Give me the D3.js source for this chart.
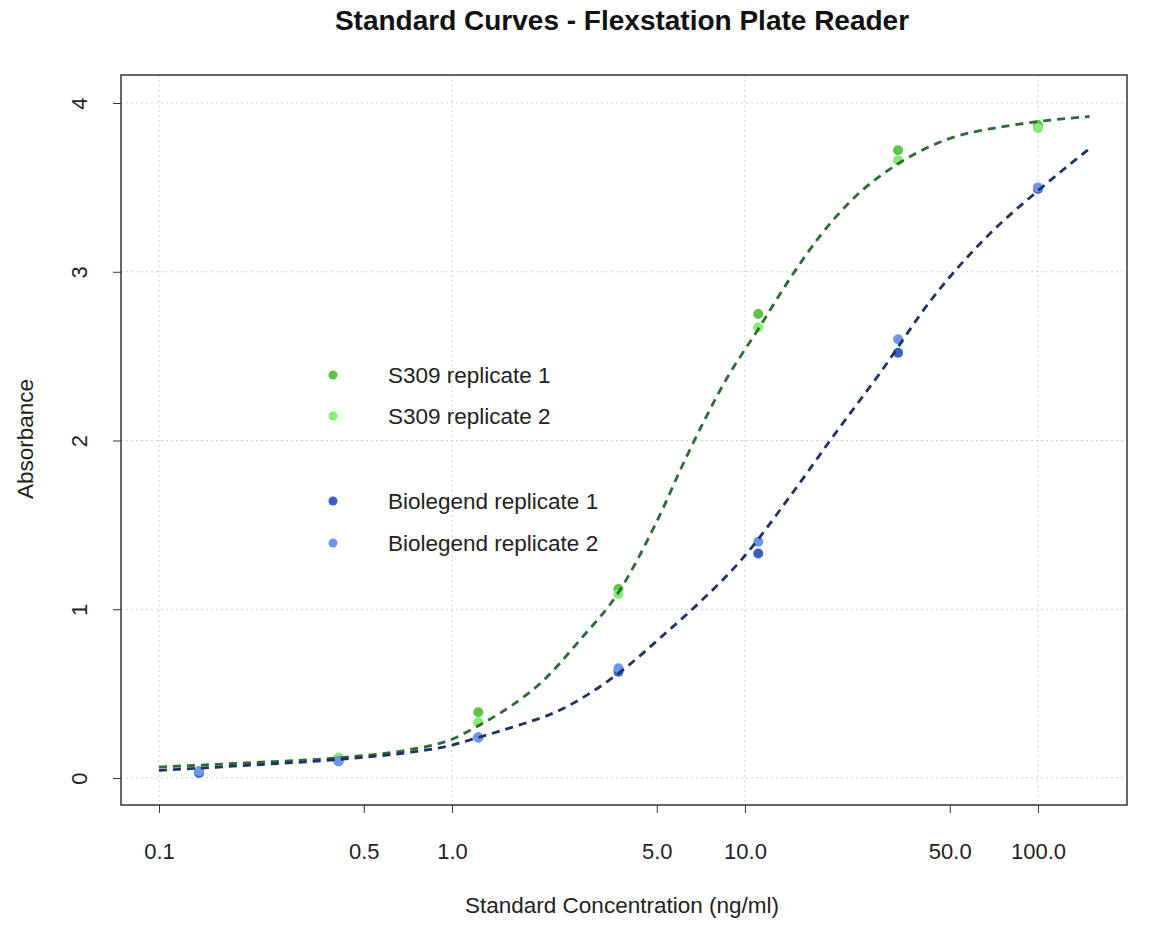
<!DOCTYPE html>
<html>
<head>
<meta charset="utf-8">
<title>Standard Curves</title>
<style>
  body { margin: 0; background: #fff; }
  text { font-family: "Liberation Sans", Arial, sans-serif; }
</style>
</head>
<body>
<script src="https://d3js.org/d3.v7.min.js"></script>
<script>
// dilution series (ng/ml)
var conc = [100, 33.3, 11.1, 3.7, 1.23, 0.41, 0.137];

// absorbance readings
var s309Rep1 = [3.87, 3.72, 2.75, 1.12, 0.39, 0.12, 0.04];
var s309Rep2 = [3.85, 3.66, 2.67, 1.09, 0.33, 0.12, 0.04];
var bioRep1 = [3.49, 2.52, 1.33, 0.63, 0.24, 0.10, 0.03];
var bioRep2 = [3.50, 2.60, 1.40, 0.65, 0.24, 0.10, 0.04];

// fitted curves
var s309FitX = [0.1, 0.2, 0.41, 0.7, 1.0, 1.23, 1.6, 2.0, 2.74, 3.7, 5.0, 6.3, 8.75, 11.1, 14, 18, 23, 33.3, 50, 76, 100, 150];
var s309FitY = [0.065, 0.09, 0.12, 0.165, 0.23, 0.31, 0.43, 0.56, 0.82, 1.10, 1.52, 1.90, 2.38, 2.66, 2.94, 3.21, 3.42, 3.64, 3.79, 3.86, 3.89, 3.92];
var bioFitX = [0.1, 0.2, 0.41, 0.7, 1.0, 1.23, 1.6, 2.32, 3.7, 5.37, 6.8, 9.8, 14.4, 20.1, 28.9, 43.5, 68, 100, 150];
var bioFitY = [0.045, 0.075, 0.11, 0.15, 0.195, 0.24, 0.30, 0.40, 0.62, 0.86, 1.02, 1.30, 1.68, 2.03, 2.40, 2.84, 3.22, 3.48, 3.73];

var xTicks = [0.1, 0.5, 1, 5, 10, 50, 100];
var xGrid = [0.1, 1, 10, 100];
var yTicks = [0, 1, 2, 3, 4];

var legendNames = ["S309 replicate 1", "S309 replicate 2", "Biolegend replicate 1", "Biolegend replicate 2"];
var pointColors = ["#5fc24a", "#84ee74", "#3a60c2", "#6b98ee"];

var width = 1162, height = 930;
var mLeft = 121, mRight = 1127, mTop = 75, mBottom = 805;

var svg = d3.select("body").append("svg")
    .attr("width", width).attr("height", height);

var x = d3.scaleLog().domain([0.0742, 201.3]).range([mLeft, mRight]);
var y = d3.scaleLinear().domain([-0.16, 4.166]).range([mBottom, mTop]);

// grid
svg.append("g").selectAll("line").data(xGrid).enter().append("line")
    .attr("x1", d => x(d)).attr("x2", d => x(d))
    .attr("y1", mTop).attr("y2", mBottom)
    .attr("stroke", "#cfcfcf").attr("stroke-width", 1).attr("stroke-dasharray", "2,3");
svg.append("g").selectAll("line").data(yTicks).enter().append("line")
    .attr("x1", mLeft).attr("x2", mRight)
    .attr("y1", d => y(d)).attr("y2", d => y(d))
    .attr("stroke", "#cfcfcf").attr("stroke-width", 1).attr("stroke-dasharray", "2,3");

// axes
var xAxis = svg.append("g").attr("transform", "translate(0," + mBottom + ")")
    .call(d3.axisBottom(x).tickValues(xTicks).tickSize(8).tickPadding(30)
        .tickFormat(d3.format(".1f")));
xAxis.select(".domain").remove();
xAxis.selectAll("line").attr("stroke", "#333");
xAxis.selectAll("text").attr("font-size", 22).attr("fill", "#222")
    .style("font-family", "'Liberation Sans', Arial, sans-serif");

var yAxis = svg.append("g")
    .call(d3.axisLeft(y).tickValues(yTicks).tickSize(8).tickFormat(d3.format("d")))
    .attr("transform", "translate(" + mLeft + ",0)");
yAxis.select(".domain").remove();
yAxis.selectAll("line").attr("stroke", "#333");
// R style: labels parallel to the axis
yAxis.selectAll(".tick text")
    .attr("font-size", 22).attr("fill", "#222")
    .style("font-family", "'Liberation Sans', Arial, sans-serif")
    .attr("text-anchor", "middle")
    .attr("x", 0).attr("y", 0).attr("dy", "0.35em")
    .attr("transform", "translate(-42,0) rotate(-90)");

// frame
svg.append("rect")
    .attr("x", mLeft).attr("y", mTop)
    .attr("width", mRight - mLeft).attr("height", mBottom - mTop)
    .attr("fill", "none").attr("stroke", "#333").attr("stroke-width", 1.5);

// points
var series = [s309Rep1, s309Rep2, bioRep1, bioRep2];
series.forEach(function (vals, k) {
    svg.append("g").selectAll("circle").data(vals).enter().append("circle")
        .attr("cx", (d, i) => x(conc[i]))
        .attr("cy", d => y(d))
        .attr("r", 5)
        .attr("fill", pointColors[k]);
});

// fitted curves
var line = d3.line().curve(d3.curveMonotoneX)
    .x(d => x(d[0])).y(d => y(d[1]));
svg.append("path")
    .datum(s309FitX.map((v, i) => [v, s309FitY[i]]))
    .attr("d", line).attr("fill", "none")
    .attr("stroke", "#2f6a35").attr("stroke-width", 2.8).attr("stroke-dasharray", "8,6");
svg.append("path")
    .datum(bioFitX.map((v, i) => [v, bioFitY[i]]))
    .attr("d", line).attr("fill", "none")
    .attr("stroke", "#1e3361").attr("stroke-width", 2.8).attr("stroke-dasharray", "8,6");

// legend
var legendY = [375, 416, 501, 543];
var legend = svg.append("g");
legend.selectAll("circle").data(legendNames).enter().append("circle")
    .attr("cx", 333).attr("cy", (d, i) => legendY[i]).attr("r", 4.5)
    .attr("fill", (d, i) => pointColors[i]);
legend.selectAll("text").data(legendNames).enter().append("text")
    .attr("x", 388).attr("y", (d, i) => legendY[i]).attr("dy", "0.35em")
    .attr("font-size", 22.5).attr("fill", "#222").text(d => d);

// titles
svg.append("text").attr("x", 622).attr("y", 30).attr("text-anchor", "middle")
    .attr("font-size", 28).attr("font-weight", "bold").attr("fill", "#111")
    .text("Standard Curves - Flexstation Plate Reader");
svg.append("text").attr("x", 622).attr("y", 913).attr("text-anchor", "middle")
    .attr("font-size", 22.5).attr("fill", "#222")
    .text("Standard Concentration (ng/ml)");
svg.append("text").attr("transform", "translate(33,439) rotate(-90)")
    .attr("text-anchor", "middle").attr("font-size", 22.5).attr("fill", "#222")
    .text("Absorbance");
</script>
</body>
</html>
